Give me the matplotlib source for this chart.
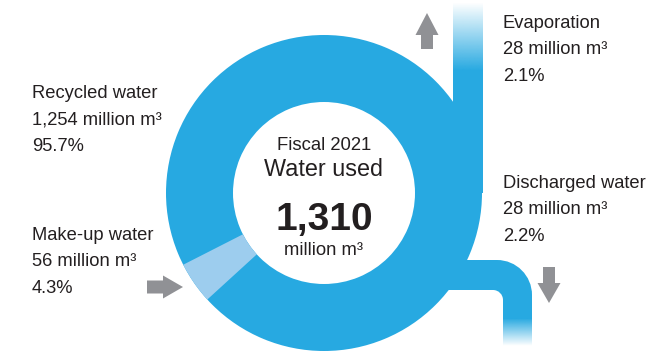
import numpy as np
import matplotlib
matplotlib.use('Agg')
import matplotlib.pyplot as plt
from matplotlib.patches import Wedge, Rectangle, PathPatch, FancyArrow
from matplotlib.path import Path

plt.rcParams['font.family'] = ['Liberation Sans', 'DejaVu Sans']

# data
total = 1310
flow_names = ['Recycled water', 'Make-up water', 'Evaporation', 'Discharged water']
flow_values = [1254, 56, 28, 28]
flow_pcts = ['95.7%', '4.3%', '2.1%', '2.2%']
center_title = ['Fiscal 2021', 'Water used']
unit = 'million m\u00b3'

BLUE = '#27a9e1'
LIGHT = '#9dcdee'
GRAY = '#909195'
INK = '#231f20'

fig = plt.figure(figsize=(6.53, 3.56), dpi=100)
ax = fig.add_axes([0, 0, 1, 1])
ax.set_xlim(0, 653)
ax.set_ylim(356, 0)
ax.set_aspect('auto')
ax.axis('off')

cx, cy, r_out, r_in = 324, 193, 158, 91


def fade(x0, x1, y_solid, y_clear):
    # vertical blue->transparent strip
    rgba = np.zeros((64, 1, 4))
    rgba[..., :3] = matplotlib.colors.to_rgb(BLUE)
    rgba[:, 0, 3] = np.linspace(1, 0, 64)
    ax.imshow(rgba, extent=(x0, x1, y_clear, y_solid), origin='upper',
              aspect='auto', interpolation='bilinear', zorder=2)


# evaporation stream going up
ax.add_patch(Rectangle((453, 70), 30, cy - 70, color=BLUE, lw=0, zorder=2))
fade(453, 483, 71, 2)

# discharge pipe
k = 0.5523
ro, ri = 35, 10
verts = [(440, 260), (532 - ro, 260),
         (532 - ro + k * ro, 260), (532, 260 + ro - k * ro), (532, 260 + ro),
         (532, 319), (503, 319), (503, 290 + ri),
         (503, 290 + ri - k * ri), (503 - ri + k * ri, 290), (503 - ri, 290),
         (440, 290), (440, 260)]
codes = [Path.MOVETO, Path.LINETO,
         Path.CURVE4, Path.CURVE4, Path.CURVE4,
         Path.LINETO, Path.LINETO, Path.LINETO,
         Path.CURVE4, Path.CURVE4, Path.CURVE4,
         Path.LINETO, Path.CLOSEPOLY]
ax.add_patch(PathPatch(Path(verts, codes), color=BLUE, lw=0, zorder=2))
fade(503, 532, 318, 346)

# ring: recycled + make-up share
share = flow_values[1] / total
top_edge = 153
ax.add_patch(Wedge((cx, cy), r_out, 0, 360, width=r_out - r_in,
                   color=BLUE, lw=0, zorder=3))
ax.add_patch(Wedge((cx, cy), r_out, top_edge - 360 * share, top_edge,
                   width=r_out - r_in, color=LIGHT, lw=0, zorder=4))

# arrows
arr = dict(color=GRAY, lw=0, length_includes_head=True, zorder=5)
ax.add_patch(FancyArrow(427, 49, 0, -36, width=12, head_width=23,
                        head_length=22, **arr))
ax.add_patch(FancyArrow(549, 267, 0, 36, width=12, head_width=23,
                        head_length=20, **arr))
ax.add_patch(FancyArrow(147, 287, 36, 0, width=13, head_width=23,
                        head_length=20, **arr))

# side labels
label_pos = [(32, 98), (32, 240), (503, 28), (503, 188)]
for name, val, pct, (x, y) in zip(flow_names, flow_values, flow_pcts, label_pos):
    lines = [name, f'{val:,} {unit}', pct]
    for i, s in enumerate(lines):
        ax.text(x, y + 26.5 * i, s, fontsize=13.2, color=INK,
                ha='left', va='baseline', zorder=6)

# center text
ax.text(cx, 150, center_title[0], fontsize=13.3, color=INK,
        ha='center', va='baseline', zorder=6)
ax.text(cx, 176, center_title[1], fontsize=16.8, color=INK,
        ha='center', va='baseline', zorder=6)
ax.text(cx, 230, f'{total:,}', fontsize=28, fontweight='bold', color=INK,
        ha='center', va='baseline', zorder=6)
ax.text(cx, 255, unit, fontsize=13.3, color=INK,
        ha='center', va='baseline', zorder=6)

fig.savefig('out.png', dpi=100)
